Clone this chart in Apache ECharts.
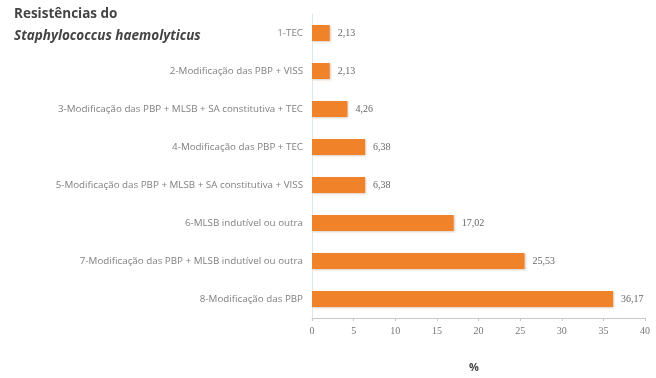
<!DOCTYPE html>
<html>
<head>
<meta charset="utf-8">
<script src="https://cdn.jsdelivr.net/npm/echarts@6/dist/echarts.min.js"></script>
<style>
  html, body { margin: 0; padding: 0; background: #fff; }
  #chart { width: 656px; height: 378px; }
</style>
</head>
<body>
<div id="chart"></div>
<script>
// Resistance mechanisms, listed top to bottom
const categories = [
  '1-TEC',
  '2-Modificação das PBP + VISS',
  '3-Modificação das PBP + MLSB + SA constitutiva + TEC',
  '4-Modificação das PBP + TEC',
  '5-Modificação das PBP + MLSB + SA constitutiva + VISS',
  '6-MLSB indutível ou outra',
  '7-Modificação das PBP + MLSB indutível ou outra',
  '8-Modificação das PBP'
];
// Percentage of isolates for each mechanism
const values = [2.13, 2.13, 4.26, 6.38, 6.38, 17.02, 25.53, 36.17];
const xTicks = [0, 5, 10, 15, 20, 25, 30, 35, 40];

const chart = echarts.init(document.getElementById('chart'));
chart.setOption({
  animation: false,
  backgroundColor: '#ffffff',
  title: [
    {
      text: 'Resistências do',
      left: 14, top: 7, padding: 0,
      textStyle: { fontFamily: 'Open Sans', fontSize: 13.5, fontWeight: 'bold', color: '#444' }
    },
    {
      text: 'Staphylococcus haemolyticus',
      left: 14, top: 29, padding: 0,
      textStyle: { fontFamily: 'Open Sans', fontSize: 13.5, fontWeight: 'bold', fontStyle: 'italic', color: '#444' }
    },
    {
      text: '%',
      left: 469, top: 362, padding: 0,
      textStyle: { fontFamily: 'Open Sans', fontSize: 11, fontWeight: 'bold', color: '#444' }
    }
  ],
  grid: { left: 312, right: 11, top: 14, bottom: 60 },
  xAxis: {
    type: 'value',
    min: xTicks[0], max: xTicks[xTicks.length - 1], interval: 5,
    axisLine: { show: true, lineStyle: { color: '#c8c8c8' } },
    axisTick: { show: true, length: 3, lineStyle: { color: '#c8c8c8' } },
    splitLine: { show: false },
    axisLabel: {
      margin: 8, color: '#777', fontFamily: 'Liberation Serif', fontSize: 10
    }
  },
  yAxis: {
    type: 'category',
    inverse: true,
    data: categories,
    axisLine: { show: true, lineStyle: { color: '#dde6ee' } },
    axisTick: { show: false },
    axisLabel: { margin: 9, color: '#808080', fontFamily: 'Open Sans', fontSize: 9.8 }
  },
  series: [{
    type: 'bar',
    data: values,
    barWidth: 16,
    itemStyle: {
      color: '#f0822a',
      shadowColor: 'rgba(120,60,0,0.25)',
      shadowBlur: 2, shadowOffsetX: 1, shadowOffsetY: 1
    },
    label: {
      show: true, position: 'right', distance: 8,
      color: '#666', fontFamily: 'Liberation Serif', fontSize: 10,
      formatter: p => p.value.toFixed(2).replace('.', ',')
    }
  }]
});
</script>
</body>
</html>
